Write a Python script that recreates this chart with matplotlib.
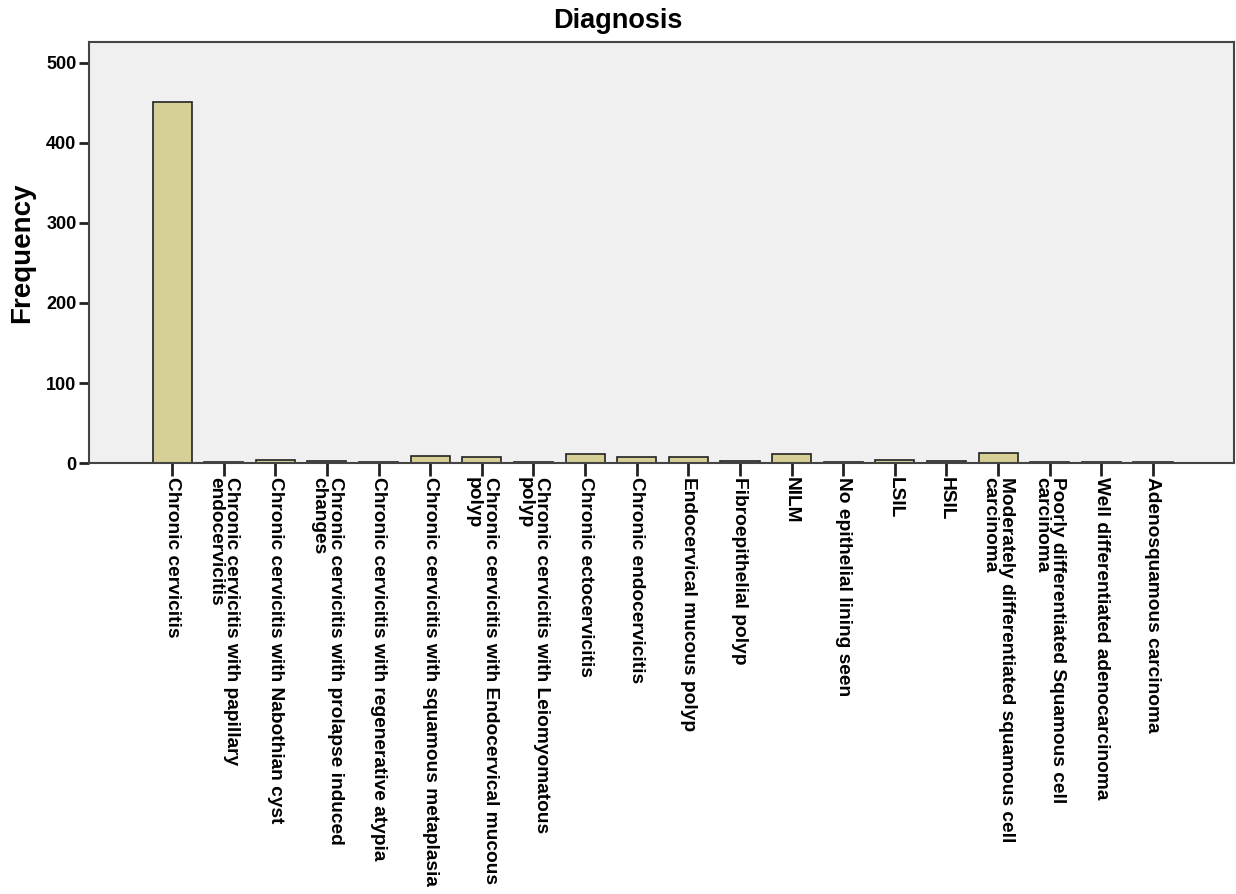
#!/usr/bin/env python3

import numpy as np
from matplotlib import pyplot as plt

plt.rcParams['font.family'] = ['Liberation Sans', 'DejaVu Sans']

categories = [
    'Chronic cervicitis',
    'Chronic cervicitis with papillary\nendocervicitis',
    'Chronic cervicitis with Nabothian cyst',
    'Chronic cervicitis with prolapse induced\nchanges',
    'Chronic cervicitis with regenerative atypia',
    'Chronic cervicitis with squamous metaplasia',
    'Chronic cervicitis with Endocervical mucous\npolyp',
    'Chronic cervicitis with Leiomyomatous\npolyp',
    'Chronic ectocervicitis',
    'Chronic endocervicitis',
    'Endocervical mucous polyp',
    'Fibroepithelial polyp',
    'NILM',
    'No epithelial lining seen',
    'LSIL',
    'HSIL',
    'Moderately differentiated squamous cell\ncarcinoma',
    'Poorly differentiated Squamous cell\ncarcinoma',
    'Well differentiated adenocarcinoma',
    'Adenosquamous carcinoma',
]
frequency = [451, 1, 4, 2, 1, 9, 8, 1, 11, 8, 8, 3, 11, 1, 4, 3, 12, 1, 1, 1]
yticks = [0, 100, 200, 300, 400, 500]


def main():
    fig = plt.figure(figsize=(12.36, 8.94), dpi=100)
    ax = fig.add_axes([0.072, 0.482, 0.926, 0.471])
    ax.set_facecolor('#eff0ef')
    xs = np.arange(len(categories))
    ax.bar(xs, frequency, width=0.756, color='#d6d096', edgecolor='#222222', linewidth=1.2, zorder=2)
    ax.set_xlim(-1.61, 20.56)
    ax.set_ylim(0, 526)
    ax.set_yticks(yticks)
    ax.set_yticklabels([str(t) for t in yticks], fontsize=13, fontweight='bold')
    ax.set_xticks(xs)
    ax.set_xticklabels(categories, rotation=270, fontsize=13.8, fontweight='bold',
                       ha='center', va='top', multialignment='left', linespacing=0.95)
    ax.tick_params(axis='y', direction='out', length=7, width=2, color='#222222', pad=2)
    ax.tick_params(axis='x', direction='out', length=9, width=2, color='#222222', pad=1)
    for s in ax.spines.values():
        s.set_color('#444444')
        s.set_linewidth(1.5)
    ax.set_ylabel('Frequency', fontsize=20, fontweight='bold', labelpad=8)
    fig.suptitle('Diagnosis', x=0.5, y=0.991, fontsize=19.5, fontweight='bold', va='top')
    fig.savefig('out.png', dpi=100)


if __name__ == '__main__':
    main()
